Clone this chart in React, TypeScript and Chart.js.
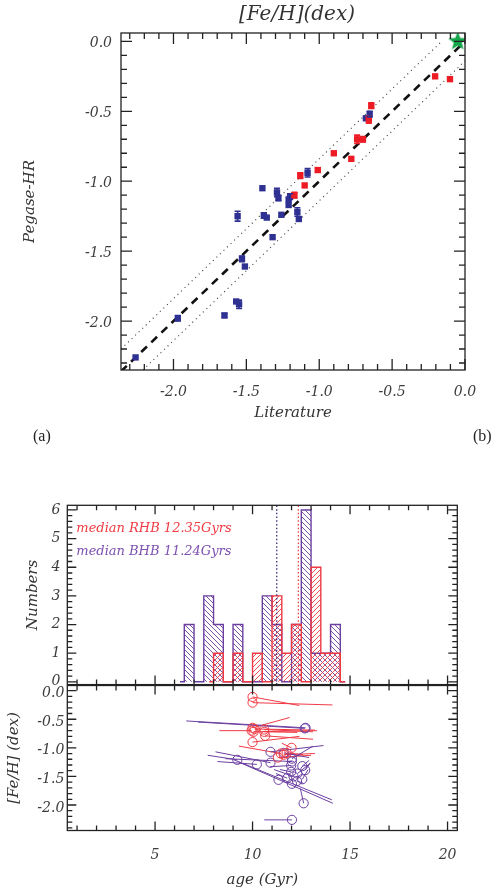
import React, { useEffect, useRef } from 'react';
import { Chart, registerables } from 'chart.js';

Chart.register(...registerables);

// ---------------- Panel (a): [Fe/H] Literature vs Pegase-HR ----------------
const topTitle = '[Fe/H](dex)';
const topXLabel = 'Literature';
const topYLabel = 'Pegase-HR';
const topXTicks = [-2.0, -1.5, -1.0, -0.5, 0.0];
const topYTicks = [0.0, -0.5, -1.0, -1.5, -2.0];

const bhbLit = [-0.68, -0.654, -1.08, -1.39, -1.29, -1.28, -1.21, -1.2, -1.21, -1.56, -1.38, -1.36, -1.26, -1.15, -1.14, -1.32, -1.53, -1.51, -1.57, -1.55, -1.65, -1.97, -2.26];
const bhbPeg = [-0.55, -0.52, -0.94, -1.05, -1.08, -1.12, -1.13, -1.11, -1.17, -1.25, -1.245, -1.26, -1.24, -1.22, -1.27, -1.4, -1.555, -1.61, -1.86, -1.88, -1.96, -1.98, -2.26];
const bhbErr = [0, 0.02, 0.03, 0, 0.03, 0.02, 0, 0.02, 0, 0.035, 0.02, 0, 0, 0.03, 0, 0, 0.02, 0, 0, 0.03, 0.015, 0.02, 0];

const rhbLit = [-0.205, -0.103, -0.643, -0.66, -0.74, -0.7, -0.9, -0.78, -1.01, -1.13, -1.1, -1.17];
const rhbPeg = [-0.25, -0.27, -0.46, -0.56, -0.7, -0.7, -0.8, -0.84, -0.92, -0.96, -1.03, -1.1];
const rhbErr = [0, 0, 0.02, 0.025, 0.03, 0.02, 0, 0, 0.015, 0.02, 0, 0.02];

const sunLit = [-0.05];
const sunPeg = [0.0];

const oneToOneX = [-2.36, 0.0];
const oneToOneY = [-2.36, 0.0];
const upperX = [-2.36, -0.16];
const upperY = [-2.2, 0.0];
const lowerX = [-2.21, 0.0];
const lowerY = [-2.35, -0.14];

// ---------------- Panel (b): age histogram ----------------
const histBinStart = [6.5, 7.0, 7.5, 8.0, 8.5, 9.0, 9.5, 10.0, 10.5, 11.0, 11.5, 12.0, 12.5, 13.0, 13.5, 14.0];
const histBinWidth = 0.5;
const bhbCounts = [2, 0, 3, 2, 0, 2, 0, 0, 3, 2, 0, 2, 6, 1, 1, 2];
const rhbCounts = [0, 0, 0, 1, 0, 1, 0, 1, 0, 3, 1, 2, 0, 4, 1, 1];
const bhbBase = [6.28, 14.75];
const rhbBase = [7.78, 14.75];
const histYTicks = [0, 1, 2, 3, 4, 5, 6];
const medianRHB = 12.35;
const medianBHB = 11.24;
const medianLabels = ['median RHB 12.35Gyrs', 'median BHB 11.24Gyrs'];

// ---------------- Panel (b): age vs [Fe/H] ----------------
const ageTicks = [5, 10, 15, 20];
const fehTicks = [0.0, -0.5, -1.0, -1.5, -2.0];

const rhbAge = [10.0, 10.0, 10.0, 9.95, 10.05, 10.6, 10.65, 10.0, 12.0, 11.45, 11.6, 11.3, 11.75, 10.6, 10.1];
const rhbFeh = [-0.11, -0.21, -0.65, -0.7, -0.72, -0.68, -0.79, -0.9, -1.0, -1.1, -1.12, -1.17, -1.09, -0.72, -0.67];
const rhbSegX1 = [10.0, 10.0, 10.0, 9.95, 10.05, 10.6, 10.65, 10.0, 12.0, 11.45, 11.6, 11.3, 11.75, 10.6, 10.1];
const rhbSegY1 = [-0.11, -0.21, -0.65, -0.7, -0.72, -0.68, -0.79, -0.9, -1.0, -1.1, -1.12, -1.17, -1.09, -0.72, -0.67];
const rhbSegX2 = [12.4, 14.1, 11.9, 8.3, 13.3, 13.1, 13.1, 12.4, 11.5, 9.3, 13.2, 13.0, 12.6, 12.3, 13.2];
const rhbSegY2 = [-0.26, -0.25, -0.47, -0.7, -0.7, -0.72, -0.85, -0.8, -0.92, -0.97, -1.1, -1.13, -1.12, -0.73, -0.69];

const bhbAge = [12.72, 12.68, 10.92, 9.22, 10.22, 10.92, 12.02, 12.02, 12.55, 12.7, 11.98, 11.98, 11.33, 11.78, 12.02, 12.28, 12.55, 12.62, 12.02, 12.1, 11.6, 12.3];
const bhbFeh = [-0.65, -0.66, -1.07, -1.21, -1.29, -1.26, -1.19, -1.24, -1.32, -1.39, -1.31, -1.42, -1.56, -1.53, -1.63, -1.58, -1.55, -1.97, -2.26, -1.5, -1.09, -1.45];
const bhbSegX1 = [12.72, 12.68, 10.92, 9.22, 10.22, 10.92, 12.02, 12.02, 12.55, 12.7, 11.98, 11.98, 9.3, 9.05, 11.78, 12.28, 12.55, 12.62, 12.02, 12.1, 11.6, 12.3];
const bhbSegY1 = [-0.65, -0.66, -1.07, -1.21, -1.29, -1.26, -1.19, -1.24, -1.32, -1.39, -1.31, -1.42, -1.25, -1.21, -1.53, -1.58, -1.55, -1.97, -2.26, -1.5, -1.09, -1.45];
const bhbSegX2 = [6.6, 7.2, 13.64, 7.7, 8.2, 8.1, 13.1, 8.6, 12.9, 12.95, 10.9, 11.4, 14.12, 14.07, 11.2, 12.6, 12.85, 12.45, 10.6, 11.1, 12.9, 12.96];
const bhbSegY2 = [-0.53, -0.55, -0.96, -1.13, -1.24, -1.07, -0.97, -1.19, -1.22, -1.27, -1.33, -1.38, -1.97, -1.91, -1.45, -1.62, -1.38, -1.71, -2.26, -1.38, -1.17, -1.27];

// ---------------- styles ----------------
const FONT = "'DejaVu Serif', serif";
const AX = '#3c3c3c';
const BLUE = '#2e3192';
const RED = '#ed1c24';
const PURPLE = '#6b3fa0';
const RED_L = '#ef3a44';

function rangeVals(a: number, b: number, step: number) {
  const out: number[] = [];
  const n = Math.round((b - a) / step);
  for (let i = 0; i <= n; i++) out.push(+(a + i * step).toFixed(4));
  return out;
}

const idlFrame = {
  id: 'idlFrame',
  afterDatasetsDraw(chart: any, _args: any, o: any) {
    const { ctx, chartArea: a, scales } = chart;
    const xs = scales.x;
    const ys = scales.y;
    ctx.save();
    ctx.strokeStyle = '#222';
    ctx.lineWidth = 1.3;
    ctx.beginPath();
    const seg = (x1: number, y1: number, x2: number, y2: number) => {
      ctx.moveTo(x1, y1);
      ctx.lineTo(x2, y2);
    };
    const doX = (vals: number[], len: number) => {
      vals.forEach((v) => {
        const p = xs.getPixelForValue(v);
        if (p < a.left - 0.5 || p > a.right + 0.5) return;
        seg(p, a.bottom, p, a.bottom - len);
        seg(p, a.top, p, a.top + len);
      });
    };
    const doY = (vals: number[], len: number) => {
      vals.forEach((v) => {
        const p = ys.getPixelForValue(v);
        if (p < a.top - 0.5 || p > a.bottom + 0.5) return;
        seg(a.left, p, a.left + len, p);
        seg(a.right, p, a.right - len, p);
      });
    };
    doX(o.xMinor, o.minorLen);
    doX(o.xMajor, o.majorLen);
    doY(o.yMinor, o.minorLen);
    doY(o.yMajor, o.majorLen);
    ctx.stroke();
    ctx.strokeRect(a.left, a.top, a.right - a.left, a.bottom - a.top);
    ctx.restore();
  },
};

const centerTitle = {
  id: 'centerTitle',
  afterDraw(chart: any, _a: any, o: any) {
    const { ctx, chartArea: a } = chart;
    ctx.save();
    ctx.font = `italic 20px ${FONT}`;
    ctx.fillStyle = '#333';
    ctx.textAlign = 'center';
    ctx.textBaseline = 'middle';
    ctx.fillText(o.text, (a.left + a.right) / 2 + 4, o.y);
    ctx.restore();
  },
};

const errorBars = {
  id: 'errorBars',
  afterDatasetsDraw(chart: any) {
    const { ctx } = chart;
    const ys = chart.scales.y;
    chart.data.datasets.forEach((ds: any, i: number) => {
      if (!ds.errors) return;
      const meta = chart.getDatasetMeta(i);
      ctx.save();
      ctx.strokeStyle = ds.borderColor;
      ctx.lineWidth = 1.6;
      meta.data.forEach((pt: any, j: number) => {
        const e = ds.errors[j];
        if (!e) return;
        const v = ds.data[j].y;
        const y1 = ys.getPixelForValue(v + e);
        const y2 = ys.getPixelForValue(v - e);
        ctx.beginPath();
        ctx.moveTo(pt.x, y1);
        ctx.lineTo(pt.x, y2);
        ctx.moveTo(pt.x - 3, y1);
        ctx.lineTo(pt.x + 3, y1);
        ctx.moveTo(pt.x - 3, y2);
        ctx.lineTo(pt.x + 3, y2);
        ctx.stroke();
      });
      ctx.restore();
    });
  },
};

const medianText = {
  id: 'medianText',
  afterDatasetsDraw(chart: any, _a: any, o: any) {
    const { ctx, chartArea: a } = chart;
    ctx.save();
    ctx.font = `italic 13px ${FONT}`;
    ctx.textBaseline = 'middle';
    ctx.textAlign = 'left';
    o.labels.forEach((t: string, i: number) => {
      ctx.fillStyle = o.colors[i];
      ctx.fillText(t, a.left + 9, a.top + 23 + i * 23);
    });
    ctx.restore();
  },
};

function makeHatch(color: string, dir: 'back' | 'fwd') {
  const s = 5;
  const c = document.createElement('canvas');
  c.width = s;
  c.height = s;
  const g = c.getContext('2d')!;
  g.strokeStyle = color;
  g.lineWidth = 0.9;
  g.beginPath();
  if (dir === 'back') {
    g.moveTo(-1, -1); g.lineTo(s + 1, s + 1);
    g.moveTo(s - 1, -1); g.lineTo(s + 1, 1);
    g.moveTo(-1, s - 1); g.lineTo(1, s + 1);
  } else {
    g.moveTo(-1, s + 1); g.lineTo(s + 1, -1);
    g.moveTo(-1, 1); g.lineTo(1, -1);
    g.moveTo(s - 1, s + 1); g.lineTo(s + 1, s - 1);
  }
  g.stroke();
  return g.createPattern(c, 'repeat');
}

function makeStar(r: number, color: string) {
  const s = Math.ceil(r * 2 + 2);
  const c = document.createElement('canvas');
  c.width = s;
  c.height = s;
  const g = c.getContext('2d')!;
  g.fillStyle = color;
  g.beginPath();
  for (let i = 0; i < 10; i++) {
    const ang = -Math.PI / 2 + (i * Math.PI) / 5;
    const rr = i % 2 === 0 ? r : r * 0.42;
    g.lineTo(s / 2 + rr * Math.cos(ang), s / 2 + rr * Math.sin(ang));
  }
  g.closePath();
  g.fill();
  return c;
}

function stepPoints(counts: number[], base: number[]) {
  const first = counts.findIndex((c) => c > 0);
  const pts: { x: number; y: number }[] = [{ x: base[0], y: 0 }];
  for (let i = first; i < counts.length; i++) pts.push({ x: histBinStart[i], y: counts[i] });
  pts.push({ x: histBinStart[histBinStart.length - 1] + histBinWidth, y: 0 });
  pts.push({ x: base[1], y: 0 });
  return pts;
}

const tickFont = { family: FONT, size: 14, style: 'italic' as const };
const titleFont = { family: FONT, size: 15, style: 'italic' as const };

export default function App() {
  const topRef = useRef<HTMLCanvasElement>(null);
  const histRef = useRef<HTMLCanvasElement>(null);
  const scatRef = useRef<HTMLCanvasElement>(null);

  useEffect(() => {
    const charts: Chart[] = [];
    const toPts = (xs: number[], ys: number[]) => xs.map((x, i) => ({ x, y: ys[i] }));

    // ---------- top chart ----------
    charts.push(
      new Chart(topRef.current!, {
        type: 'scatter',
        data: {
          datasets: [
            { data: toPts(sunLit, sunPeg), pointStyle: makeStar(10, '#13a54a'), pointRadius: 10 } as any,
            { data: toPts(rhbLit, rhbPeg), pointStyle: 'rect', pointRadius: 4.5, backgroundColor: RED, borderColor: RED, borderWidth: 0, errors: rhbErr } as any,
            { data: toPts(bhbLit, bhbPeg), pointStyle: 'rect', pointRadius: 4.5, backgroundColor: BLUE, borderColor: BLUE, borderWidth: 0, errors: bhbErr } as any,
            { data: toPts(oneToOneX, oneToOneY), showLine: true, borderColor: '#111', borderWidth: 2.6, borderDash: [8, 6], pointRadius: 0 } as any,
            { data: toPts(upperX, upperY), showLine: true, borderColor: '#444', borderWidth: 1.1, borderDash: [1.1, 3.8], pointRadius: 0 } as any,
            { data: toPts(lowerX, lowerY), showLine: true, borderColor: '#444', borderWidth: 1.1, borderDash: [1.1, 3.8], pointRadius: 0 } as any,
          ],
        },
        options: {
          responsive: false,
          animation: false,
          layout: { padding: { left: 0, right: 34, top: 33, bottom: 0 } },
          plugins: {
            legend: { display: false },
            tooltip: { enabled: false },
            title: { display: false },
            centerTitle: { text: topTitle, y: 15 },
            idlFrame: { xMajor: topXTicks, xMinor: rangeVals(-2.3, 0, 0.1), yMajor: topYTicks, yMinor: rangeVals(-2.3, 0, 0.1), majorLen: 11, minorLen: 6 },
          } as any,
          scales: {
            x: {
              type: 'linear', min: -2.36, max: 0.0,
              afterBuildTicks: (s: any) => { s.ticks = topXTicks.map((v) => ({ value: v })); },
              afterFit: (s: any) => { s.height = 75; },
              grid: { display: false, drawTicks: false }, border: { display: false },
              ticks: { padding: 14, color: AX, font: tickFont, callback: (v: any) => Number(v).toFixed(1) },
              title: { display: true, text: topXLabel, color: '#333', font: titleFont, padding: { top: 0, bottom: 23 } },
            },
            y: {
              type: 'linear', min: -2.35, max: 0.06,
              afterBuildTicks: (s: any) => { s.ticks = topYTicks.map((v) => ({ value: v })); },
              afterFit: (s: any) => { s.width = 121; },
              grid: { display: false, drawTicks: false }, border: { display: false },
              ticks: { padding: 9, labelOffset: 2, color: AX, font: tickFont, callback: (v: any) => Number(v).toFixed(1) },
              title: { display: true, text: topYLabel, color: '#333', font: titleFont, padding: { top: 21, bottom: 0 } },
            },
          } as any,
        },
        plugins: [idlFrame, errorBars, centerTitle],
      } as any)
    );

    // ---------- histogram ----------
    const purpleHatch = makeHatch(PURPLE, 'back');
    const redHatch = makeHatch(RED_L, 'fwd');
    charts.push(
      new Chart(histRef.current!, {
        type: 'scatter',
        data: {
          datasets: [
            { data: stepPoints(bhbCounts, bhbBase), order: 2, showLine: true, stepped: true, borderColor: PURPLE, borderWidth: 1.4, pointRadius: 0, fill: 'origin', backgroundColor: purpleHatch } as any,
            { data: stepPoints(rhbCounts, rhbBase), order: 1, showLine: true, stepped: true, borderColor: RED_L, borderWidth: 1.4, pointRadius: 0, fill: 'origin', backgroundColor: redHatch } as any,
            { data: [{ x: medianBHB, y: -1 }, { x: medianBHB, y: 7 }], order: -1, showLine: true, borderColor: '#3b2a78', borderWidth: 1.3, borderDash: [1.5, 2.2], pointRadius: 0 } as any,
            { data: [{ x: medianRHB, y: -1 }, { x: medianRHB, y: 7 }], order: -1, showLine: true, borderColor: '#f0404a', borderWidth: 1.3, borderDash: [1.5, 2.2], pointRadius: 0 } as any,
          ],
        },
        options: {
          responsive: false,
          animation: false,
          layout: { padding: { left: 0, right: 41.7, top: 45.3, bottom: 14.5 } },
          plugins: {
            legend: { display: false },
            tooltip: { enabled: false },
            idlFrame: { xMajor: ageTicks, xMinor: rangeVals(1, 20, 1), yMajor: histYTicks, yMinor: rangeVals(0, 6, 0.2), majorLen: 9, minorLen: 5 },
            medianText: { labels: medianLabels, colors: [RED_L, '#7d4fb0'] },
          } as any,
          scales: {
            x: { type: 'linear', min: 0.5, max: 20.5, display: false },
            y: {
              type: 'linear', min: -0.097, max: 6.163,
              afterBuildTicks: (s: any) => { s.ticks = histYTicks.map((v) => ({ value: v })); },
              afterFit: (s: any) => { s.width = 67.3; },
              grid: { display: false, drawTicks: false }, border: { display: false },
              ticks: { padding: 7, color: AX, font: tickFont, callback: (v: any) => String(v) },
              title: { display: true, text: 'Numbers', color: '#333', font: titleFont, padding: { top: 24, bottom: 0 } },
            },
          } as any,
        },
        plugins: [idlFrame, medianText],
      } as any)
    );

    // ---------- age vs [Fe/H] ----------
    const segDs: any[] = [];
    bhbSegX1.forEach((x, i) => {
      segDs.push({ data: [{ x, y: bhbSegY1[i] }, { x: bhbSegX2[i], y: bhbSegY2[i] }], showLine: true, borderColor: PURPLE, borderWidth: 1, pointRadius: 0 });
    });
    rhbSegX1.forEach((x, i) => {
      segDs.push({ data: [{ x, y: rhbSegY1[i] }, { x: rhbSegX2[i], y: rhbSegY2[i] }], showLine: true, borderColor: RED_L, borderWidth: 1, pointRadius: 0 });
    });
    charts.push(
      new Chart(scatRef.current!, {
        type: 'scatter',
        data: {
          datasets: [
            { data: toPts(rhbAge, rhbFeh), pointStyle: 'circle', pointRadius: 4.6, backgroundColor: 'rgba(0,0,0,0)', borderColor: RED_L, borderWidth: 1 },
            { data: toPts(bhbAge, bhbFeh), pointStyle: 'circle', pointRadius: 4.6, backgroundColor: 'rgba(0,0,0,0)', borderColor: PURPLE, borderWidth: 1 },
            ...segDs,
          ],
        },
        options: {
          responsive: false,
          animation: false,
          layout: { padding: { left: 0, right: 41.7, top: 25.5, bottom: 0 } },
          plugins: {
            legend: { display: false },
            tooltip: { enabled: false },
            idlFrame: { xMajor: ageTicks, xMinor: rangeVals(1, 20, 1), yMajor: fehTicks, yMinor: rangeVals(-2.4, 0, 0.1), majorLen: 9, minorLen: 5 },
          } as any,
          scales: {
            x: {
              type: 'linear', min: 0.5, max: 20.5,
              afterBuildTicks: (s: any) => { s.ticks = ageTicks.map((v) => ({ value: v })); },
              afterFit: (s: any) => { s.height = 60.5; },
              grid: { display: false, drawTicks: false }, border: { display: false },
              ticks: { padding: 16, color: AX, font: tickFont, callback: (v: any) => String(v) },
              title: { display: true, text: 'age (Gyr)', color: '#333', font: titleFont, padding: { top: 0, bottom: 2 } },
            },
            y: {
              type: 'linear', min: -2.446, max: 0.09,
              afterBuildTicks: (s: any) => { s.ticks = fehTicks.map((v) => ({ value: v })); },
              afterFit: (s: any) => { s.width = 67.3; },
              grid: { display: false, drawTicks: false }, border: { display: false },
              ticks: { padding: 3, labelOffset: 3, color: AX, font: tickFont, callback: (v: any) => Number(v).toFixed(1) },
              title: { display: true, text: '[Fe/H] (dex)', color: '#333', font: titleFont, padding: { top: 5, bottom: 0 } },
            },
          } as any,
        },
        plugins: [idlFrame],
      } as any)
    );

    return () => charts.forEach((c) => c.destroy());
  }, []);

  const labelStyle: React.CSSProperties = {
    position: 'absolute',
    font: "16px 'Liberation Serif', serif",
    color: '#222',
    lineHeight: '18px',
  };

  return (
    <div style={{ position: 'absolute', left: 0, top: 0, width: 499, height: 891, background: '#fff', overflow: 'hidden' }}>
      <canvas ref={topRef} width={499} height={445} style={{ position: 'absolute', left: 0, top: 0 }} />
      <canvas ref={histRef} width={499} height={240} style={{ position: 'absolute', left: 0, top: 460 }} />
      <canvas ref={scatRef} width={499} height={231} style={{ position: 'absolute', left: 0, top: 660 }} />
      <span style={{ ...labelStyle, left: 33, top: 427 }}>(a)</span>
      <span style={{ ...labelStyle, left: 473, top: 427 }}>(b)</span>
    </div>
  );
}
